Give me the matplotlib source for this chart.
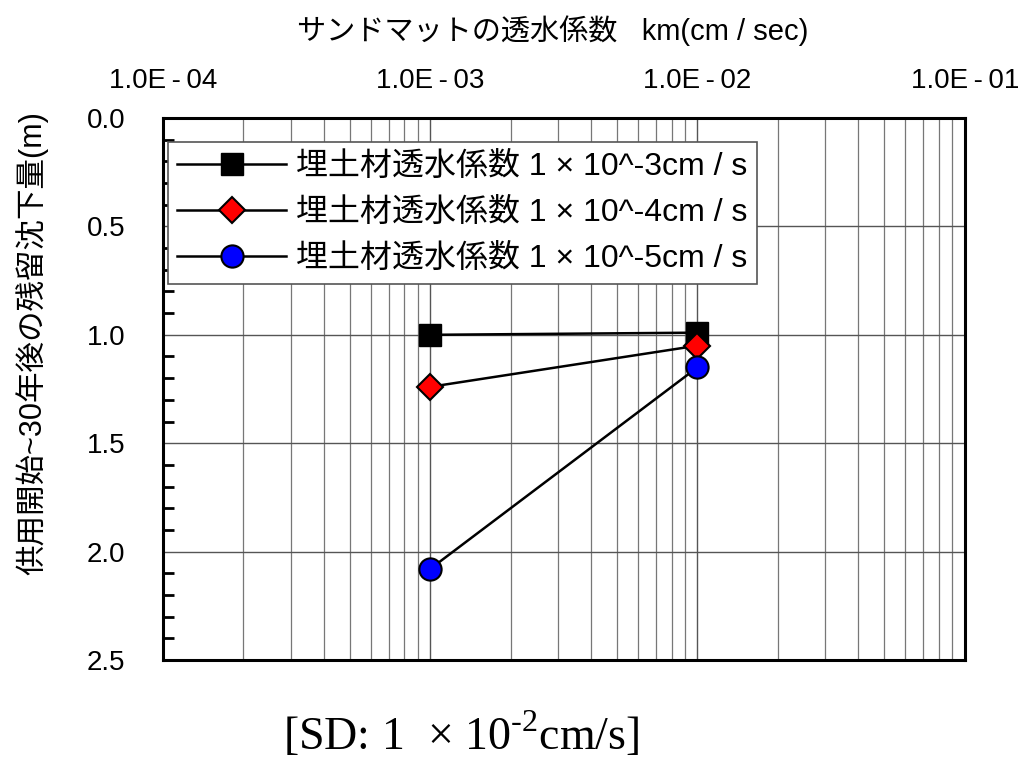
import matplotlib
matplotlib.use('Agg')
import matplotlib.pyplot as plt
from matplotlib.ticker import FixedLocator, MultipleLocator, LogLocator, NullFormatter

plt.rcParams['font.family'] = ['Liberation Sans', 'Noto Sans CJK JP', 'DejaVu Sans']
plt.rcParams['mathtext.fontset'] = 'custom'
plt.rcParams['mathtext.rm'] = 'Liberation Serif'

# sand mat permeability (cm/sec)
k_sandmat = [1.0e-3, 1.0e-2]
# residual settlement 30 years after service start (m)
settle_k3 = [1.00, 0.99]
settle_k4 = [1.24, 1.05]
settle_k5 = [2.08, 1.15]
labels = ['埋土材透水係数 1 × 10^-3cm / s',
          '埋土材透水係数 1 × 10^-4cm / s',
          '埋土材透水係数 1 × 10^-5cm / s']
x_ticks = [1e-4, 1e-3, 1e-2, 1e-1]
x_ticklabels = ['1.0E\u2009-\u200904', '1.0E\u2009-\u200903',
                '1.0E\u2009-\u200902', '1.0E\u2009-\u200901']

fig = plt.figure(figsize=(10.2, 7.62), dpi=100)
ax = fig.add_axes([0.1598, 0.134, 0.786, 0.711])

ax.plot(k_sandmat, settle_k3, color='black', lw=1.8, marker='s', ms=16,
        mfc='black', mec='black', label=labels[0], zorder=3)
ax.plot(k_sandmat, settle_k4, color='black', lw=1.8, marker='D', ms=13,
        mfc='red', mec='black', mew=1.5, label=labels[1], zorder=4)
ax.plot(k_sandmat, settle_k5, color='black', lw=1.8, marker='o', ms=16,
        mfc='blue', mec='black', mew=1.5, label=labels[2], zorder=5)

ax.set_xscale('log')
ax.set_xlim(1e-4, 1e-1)
ax.set_ylim(2.5, 0.0)

ax.xaxis.set_major_locator(FixedLocator(x_ticks))
ax.set_xticklabels(x_ticklabels)
ax.xaxis.set_minor_locator(LogLocator(base=10, subs=range(2, 10)))
ax.xaxis.set_minor_formatter(NullFormatter())
ax.xaxis.tick_top()
ax.xaxis.set_label_position('top')
ax.tick_params(axis='x', which='both', length=0, labelsize=20, pad=17)

ax.yaxis.set_major_locator(MultipleLocator(0.5))
ax.yaxis.set_minor_locator(MultipleLocator(0.1))
ax.set_yticklabels([f'{v:.1f}' for v in ax.get_yticks()])
ax.tick_params(axis='y', which='major', direction='in', length=0, labelsize=20, pad=27)
ax.tick_params(axis='y', which='minor', direction='in', length=8, width=2)

ax.grid(True, which='major', axis='both', color='#555555', lw=1.0)
ax.grid(True, which='minor', axis='x', color='#777777', lw=0.9)

for s in ax.spines.values():
    s.set_linewidth(2.2)

ax.set_xlabel('サンドマットの透水係数   km(cm / sec)', fontsize=21)
ax.xaxis.set_label_coords(0.486, 1.145)
ax.set_ylabel('供用開始~30年後の残留沈下量(m)', fontsize=22)
ax.yaxis.set_label_coords(-0.143, 0.585)

leg = ax.legend(loc='upper left', bbox_to_anchor=(0.006, 0.955), fontsize=23,
                frameon=True, fancybox=False, framealpha=1, edgecolor='#555555',
                borderpad=0.3, labelspacing=0.5, handlelength=3.4, handletextpad=0.3,
                borderaxespad=0.0)
leg.get_frame().set_linewidth(1.2)

fig.text(0.452, 0.016, '[SD: 1  × 10$^{\\mathrm{\u2010}2}$cm/s]', ha='center', va='baseline',
         fontsize=33, family='Liberation Serif')

fig.savefig('out.png', dpi=100)
